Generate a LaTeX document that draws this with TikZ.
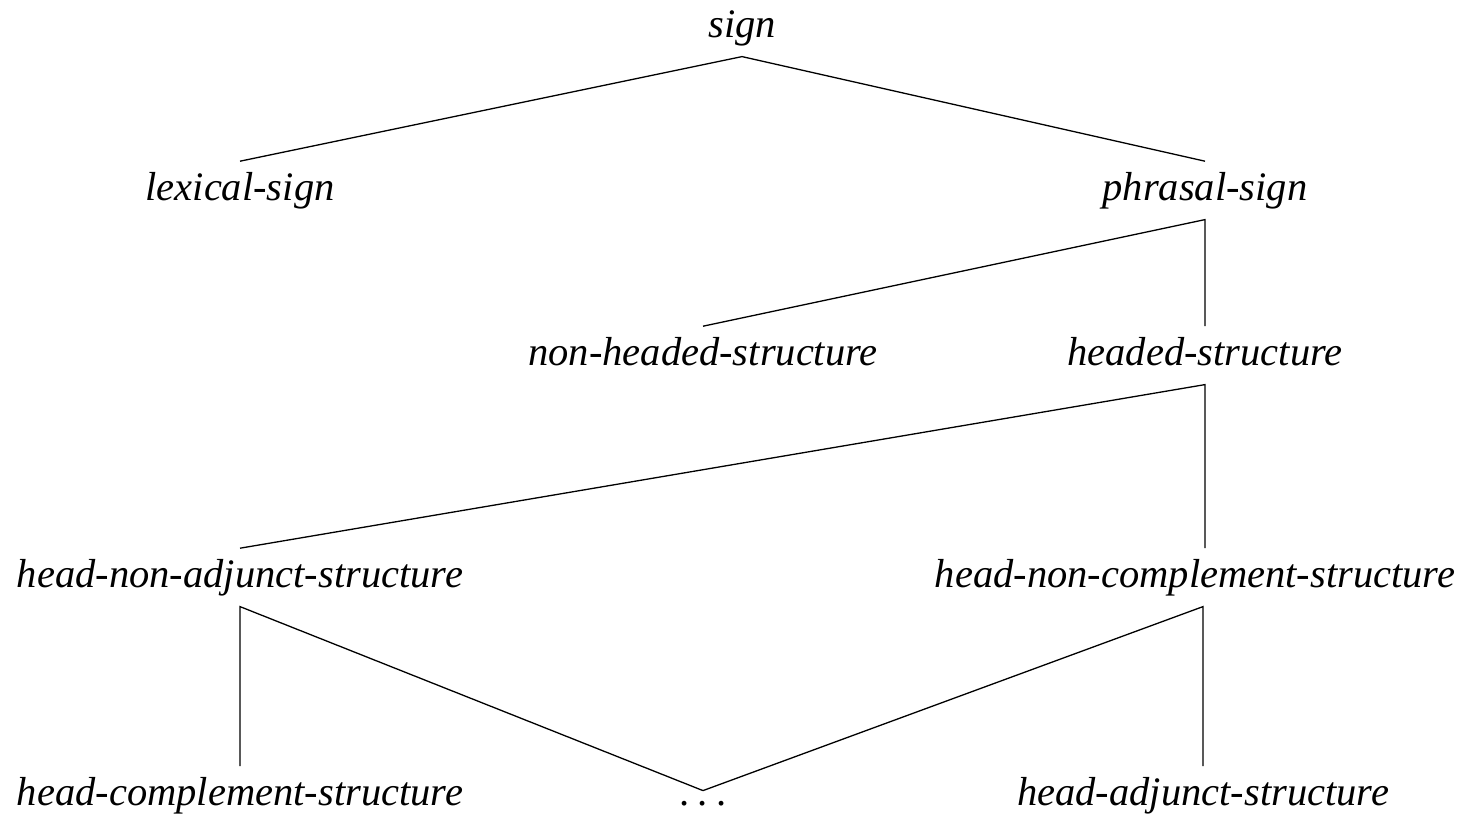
\documentclass[tikz,border=0pt]{standalone}
\usepackage{fontspec}
\setmainfont{Liberation Serif}
\begin{document}
\begin{tikzpicture}[x=1pt,y=-1pt,
  type/.style={anchor=base,inner sep=5pt,font=\fontsize{40.5}{48}\selectfont\itshape,execute at begin node=\strut},
  etc/.style={anchor=base,inner xsep=5pt,inner ysep=10pt,font=\fontsize{40.5}{48}\selectfont},
  edge/.style={line width=1.3pt}]
\useasboundingbox (0,0) rectangle (1472,814);
% type nodes
\node[type] (sign) at (742,37)  {sign};
\node[type] (lex)  at (240,200) {lexical-sign};
\node[type] (phr)  at (1205,200) {phrasal-sign};
\node[type] (nhs)  at (703,365) {non-headed-structure};
\node[type] (hs)   at (1205,365) {headed-structure};
\node[type] (hna)  at (240,587) {head-non-adjunct-structure};
\node[type] (hnc)  at (1195,587) {head-non-complement-structure};
\node[type] (hc)   at (240,805) {head-complement-structure};
\node[etc]  (dots) at (703,805) {.\kern0.2em.\kern0.2em.};
\node[type] (ha)   at (1203,805) {head-adjunct-structure};
% subtype links
\draw[edge] (lex.north) -- (sign.south) -- (phr.north);
\draw[edge] (nhs.north) -- (phr.south) -- (hs.north);
\draw[edge] (hna.north) -- (hs.south) -- (hs.south |- hnc.north);
\draw[edge] (hc.north) -- (hna.south) -- (dots.north);
\draw[edge] (dots.north) -- (ha.north |- hnc.south) -- (ha.north);
\end{tikzpicture}
\end{document}
